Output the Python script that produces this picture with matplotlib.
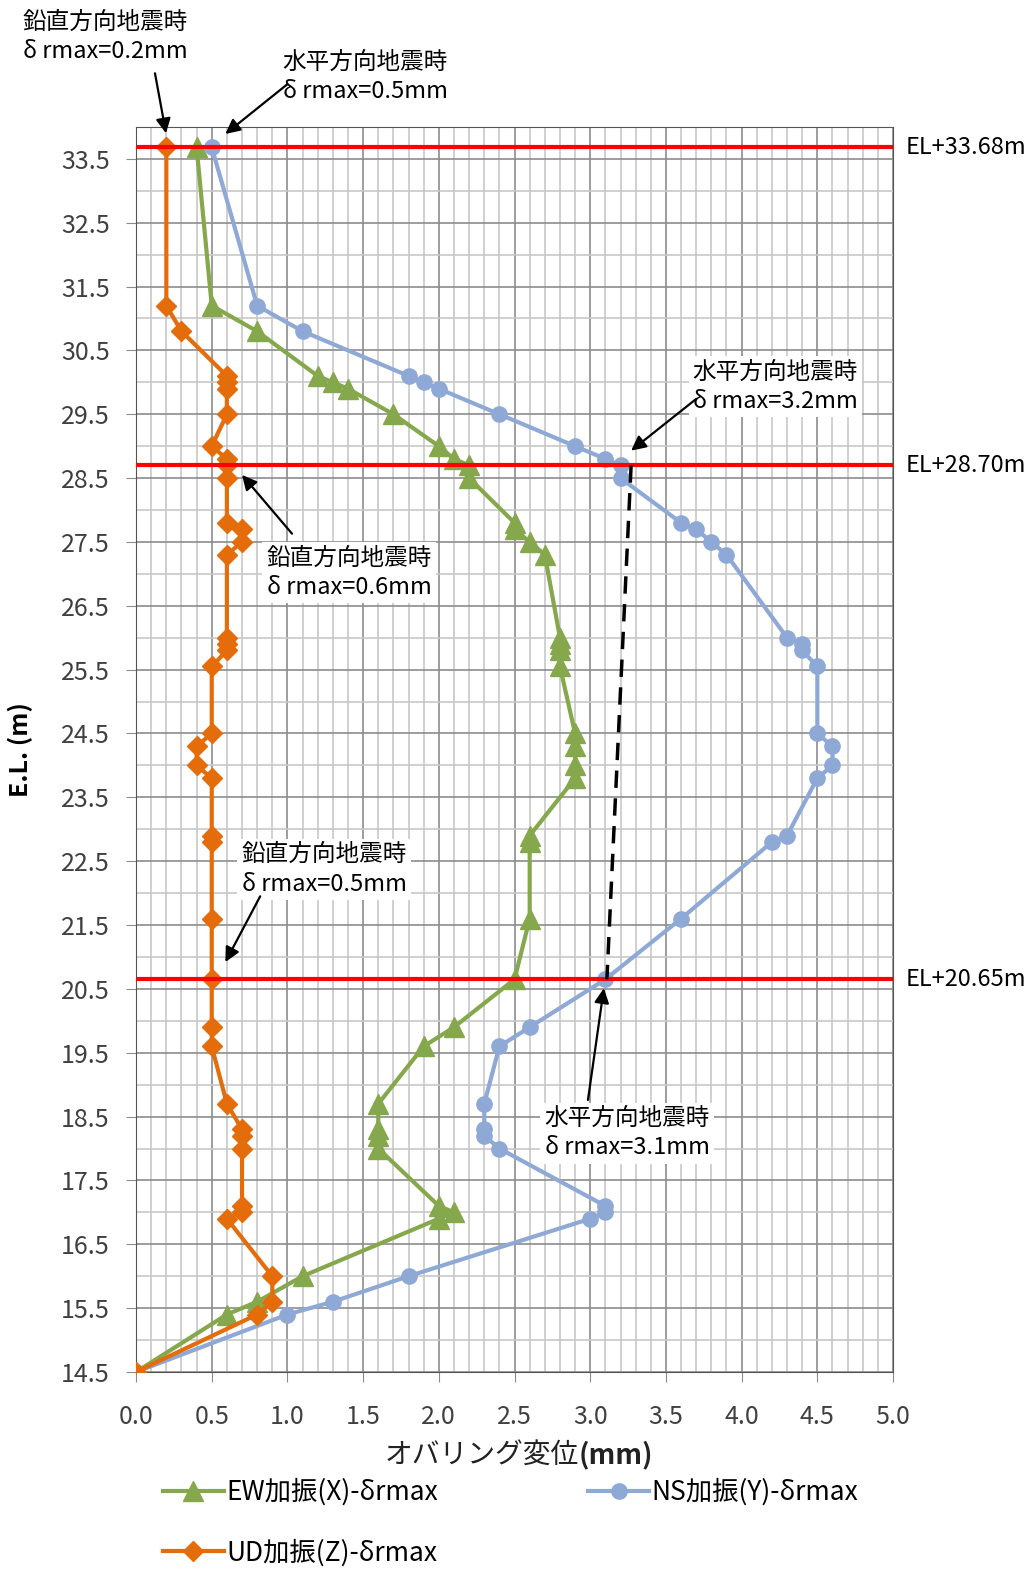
import matplotlib
matplotlib.use('Agg')
from matplotlib import pyplot as plt
from matplotlib.ticker import MultipleLocator, FormatStrFormatter

plt.rcParams['font.family'] = ['Noto Sans CJK JP', 'DejaVu Sans']

# 標高 (m)
el = [33.68, 31.2, 30.8, 30.1, 30.0, 29.9, 29.5, 29.0, 28.8, 28.7, 28.5,
      27.8, 27.7, 27.5, 27.3, 26.0, 25.9, 25.8, 25.55,
      24.5, 24.3, 24.0, 23.8, 22.9, 22.8, 21.6, 20.65, 19.9, 19.6,
      18.7, 18.3, 18.2, 18.0, 17.1, 17.0, 16.9, 16.0, 15.6, 15.4, 14.5]

# オバリング変位 (mm)
ew = [0.4, 0.5, 0.8, 1.2, 1.3, 1.4, 1.7, 2.0, 2.1, 2.2, 2.2,
      2.5, 2.5, 2.6, 2.7, 2.8, 2.8, 2.8, 2.8,
      2.9, 2.9, 2.9, 2.9, 2.6, 2.6, 2.6, 2.5, 2.1, 1.9,
      1.6, 1.6, 1.6, 1.6, 2.0, 2.1, 2.0, 1.1, 0.8, 0.6, 0.0]
ns = [0.5, 0.8, 1.1, 1.8, 1.9, 2.0, 2.4, 2.9, 3.1, 3.2, 3.2,
      3.6, 3.7, 3.8, 3.9, 4.3, 4.4, 4.4, 4.5,
      4.5, 4.6, 4.6, 4.5, 4.3, 4.2, 3.6, 3.1, 2.6, 2.4,
      2.3, 2.3, 2.3, 2.4, 3.1, 3.1, 3.0, 1.8, 1.3, 1.0, 0.0]
ud = [0.2, 0.2, 0.3, 0.6, 0.6, 0.6, 0.6, 0.5, 0.6, 0.6, 0.6,
      0.6, 0.7, 0.7, 0.6, 0.6, 0.6, 0.6, 0.5,
      0.5, 0.4, 0.4, 0.5, 0.5, 0.5, 0.5, 0.5, 0.5, 0.5,
      0.6, 0.7, 0.7, 0.7, 0.7, 0.7, 0.6, 0.9, 0.9, 0.8, 0.0]

labels = ['EW加振(X)-δrmax', 'NS加振(Y)-δrmax', 'UD加振(Z)-δrmax']

levels = [33.68, 28.70, 20.65]
level_labels = ['EL+33.68m', 'EL+28.70m', 'EL+20.65m']

dash_x = [3.27, 3.11]
dash_y = [28.70, 20.65]

# 注記: テキスト, テキスト位置, 矢印始点, 矢印先端, 白背景
notes = [
    ('鉛直方向地震時\nδ rmax=0.2mm', (0.34, 35.41), (0.125, 34.84), (0.198, 33.90), False),
    ('水平方向地震時\nδ rmax=0.5mm', (2.06, 34.78), (1.0, 34.67), (0.59, 33.89), False),
    ('水平方向地震時\nδ rmax=3.2mm', (4.77, 29.93), (3.70, 29.74), (3.27, 28.93), True),
    ('鉛直方向地震時\nδ rmax=0.6mm', (1.955, 27.02), (1.03, 27.63), (0.70, 28.55), True),
    ('鉛直方向地震時\nδ rmax=0.5mm', (1.79, 22.37), (0.82, 21.95), (0.59, 20.92), True),
    ('水平方向地震時\nδ rmax=3.1mm', (3.79, 18.24), (2.985, 18.76), (3.09, 20.51), True),
]

green = '#86A84C'
blue = '#8FA9D6'
orange = '#E46C0A'

fig = plt.figure(figsize=(10.33, 15.73), dpi=100)
ax = fig.add_axes([0.1317, 0.1278, 0.7328, 0.7915])

l_ew, = ax.plot(ew, el, color=green, lw=3, marker='^', ms=14, label=labels[0], zorder=4)
l_ns, = ax.plot(ns, el, color=blue, lw=3, marker='o', ms=11, label=labels[1], zorder=4)
l_ud, = ax.plot(ud, el, color=orange, lw=3, marker='D', ms=10, label=labels[2], zorder=5)

for lv, lt in zip(levels, level_labels):
    ax.axhline(lv, color='#FF0000', lw=3, zorder=6)
    ax.text(5.08, lv, lt, fontsize=17, va='center', ha='left', clip_on=False)

ax.plot(dash_x, dash_y, color='black', lw=2.5, ls=(0, (5, 3)), zorder=6)

for txt, tpos, tail, tip, boxed in notes:
    bbox = dict(facecolor='white', edgecolor='none', pad=3) if boxed else None
    ax.text(tpos[0], tpos[1], txt, fontsize=17, ha='right', va='center',
            multialignment='right', linespacing=1.35, bbox=bbox, zorder=7, clip_on=False)
    ax.annotate('', xy=tip, xytext=tail, annotation_clip=False, zorder=8,
                arrowprops=dict(arrowstyle='-|>', color='black', lw=1.6,
                                mutation_scale=22, shrinkA=0, shrinkB=0))

ax.set_xlim(0, 5)
ax.set_ylim(14.5, 34.0)
ax.xaxis.set_major_locator(MultipleLocator(0.5))
ax.xaxis.set_minor_locator(MultipleLocator(0.1))
ax.xaxis.set_major_formatter(FormatStrFormatter('%.1f'))
ax.set_yticks([14.5 + i for i in range(20)])
ax.yaxis.set_minor_locator(MultipleLocator(0.5))
ax.grid(which='major', color='#8C8C8C', lw=1.2)
ax.grid(which='minor', color='#C8C8C8', lw=1.2)
ax.set_axisbelow(True)
ax.tick_params(which='major', labelsize=18, length=7, color='#8C8C8C', labelcolor='#404040')
ax.tick_params(axis='y', pad=12)
ax.tick_params(axis='x', pad=16)
ax.tick_params(which='minor', length=0)
for s in ax.spines.values():
    s.set_color('#555555')

# 横軸タイトル (単位のみ太字)
ax.text(0.585, -0.0735, 'オバリング変位', transform=ax.transAxes, fontsize=20,
        ha='right', va='baseline', color='#222222')
ax.text(0.585, -0.0735, '(mm)', transform=ax.transAxes, fontsize=20, fontweight='bold',
        ha='left', va='baseline', color='#222222')
ax.set_ylabel('E.L. (m)', fontsize=18, fontweight='bold', labelpad=20)

ax.legend([l_ew, l_ud, l_ns], [labels[0], labels[2], labels[1]], ncol=2,
          loc='upper left', bbox_to_anchor=(0.145, 0.0685), bbox_transform=fig.transFigure,
          frameon=False, fontsize=19, handlelength=2.3, handletextpad=0.1,
          labelspacing=1.25, columnspacing=5.7, borderpad=0)

fig.savefig('out.png', dpi=100)
